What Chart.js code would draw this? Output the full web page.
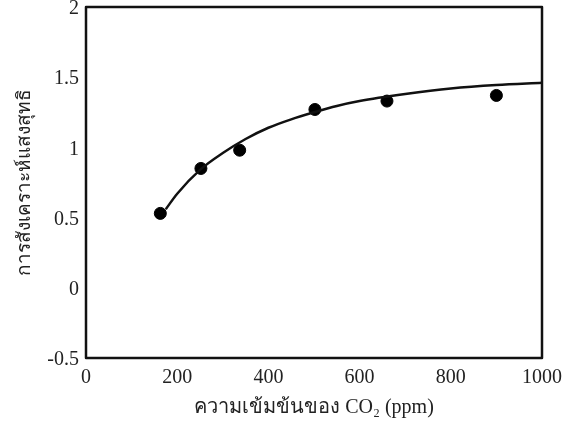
<!DOCTYPE html>
<html><head><meta charset="utf-8">
<script src="https://cdn.jsdelivr.net/npm/chart.js@4"></script>
<style>html,body{margin:0;padding:0;background:#fff}#wrap{width:563px;height:423px}</style>
</head><body><div id="wrap"><canvas id="c"></canvas></div>
<script>
const co2Measured = [163, 252, 337, 502, 660, 900];
const rateMeasured = [0.53, 0.85, 0.98, 1.27, 1.33, 1.37];
const co2Curve = [175, 200, 250, 300, 350, 400, 450, 500, 550, 600, 700, 800, 900, 1000];
const rateCurve = [0.56, 0.67, 0.84, 0.96, 1.06, 1.14, 1.20, 1.25, 1.295, 1.33, 1.38, 1.42, 1.445, 1.46];
const xTicks = [0, 200, 400, 600, 800, 1000];
const xTickLabels = ['0', '200', '400', '600', '800', '1000'];
const yTicks = [-0.5, 0, 0.5, 1, 1.5, 2];
const yTickLabels = ['-0.5', '0', '0.5', '1', '1.5', '2'];
const xTitle = 'ความเข้มข้นของ CO₂ (ppm)';
const yTitle = 'การสังเคราะห์แสงสุทธิ';

const serif = "'Liberation Serif', 'DejaVu Serif', 'Noto Sans', serif";

const frame = {
  id: 'frame',
  afterDraw(chart) {
    const a = chart.chartArea, ctx = chart.ctx;
    ctx.save();
    ctx.strokeStyle = '#111';
    ctx.lineWidth = 2.5;
    ctx.lineJoin = 'round';
    ctx.strokeRect(a.left, a.top, a.right - a.left, a.bottom - a.top);
    ctx.restore();
  }
};

new Chart(document.getElementById('c'), {
  type: 'scatter',
  data: {
    datasets: [
      {
        type: 'line',
        data: co2Curve.map((x, i) => ({x, y: rateCurve[i]})),
        borderColor: '#111',
        borderWidth: 2.5,
        pointRadius: 0,
        cubicInterpolationMode: 'monotone',
        fill: false
      },
      {
        data: co2Measured.map((x, i) => ({x, y: rateMeasured[i]})),
        backgroundColor: '#000',
        borderColor: '#000',
        pointRadius: 6,
        pointHoverRadius: 6
      }
    ]
  },
  options: {
    responsive: true,
    maintainAspectRatio: false,
    animation: false,
    events: [],
    layout: { padding: { top: 7, right: 21, left: 0, bottom: 0 } },
    plugins: { legend: { display: false }, tooltip: { enabled: false } },
    scales: {
      x: {
        type: 'linear', min: 0, max: 1000,
        afterBuildTicks: s => { s.ticks = xTicks.map(v => ({value: v})); },
        afterFit: s => { s.height = 65; s.paddingLeft = 0; s.paddingRight = 0; },
        grid: { display: false, drawTicks: false },
        border: { display: false },
        ticks: { color: '#222', font: { family: serif, size: 20 }, padding: 8,
                 callback: (v, i) => xTickLabels[i] },
        title: { display: true, text: xTitle, color: '#222', font: { family: serif, size: 20 }, padding: { top: 0, bottom: 3 } }
      },
      y: {
        type: 'linear', min: -0.5, max: 2,
        afterBuildTicks: s => { s.ticks = yTicks.map(v => ({value: v})); },
        afterFit: s => { s.width = 86; s.paddingTop = 0; s.paddingBottom = 0; },
        grid: { display: false, drawTicks: false },
        border: { display: false },
        ticks: { color: '#222', font: { family: serif, size: 20 }, padding: 7, labelOffset: 2,
                 callback: (v, i) => yTickLabels[i] },
        title: { display: true, text: yTitle, color: '#222', font: { family: serif, size: 19 }, padding: { top: 14, bottom: 0 } }
      }
    }
  },
  plugins: [frame]
});
</script></body></html>
